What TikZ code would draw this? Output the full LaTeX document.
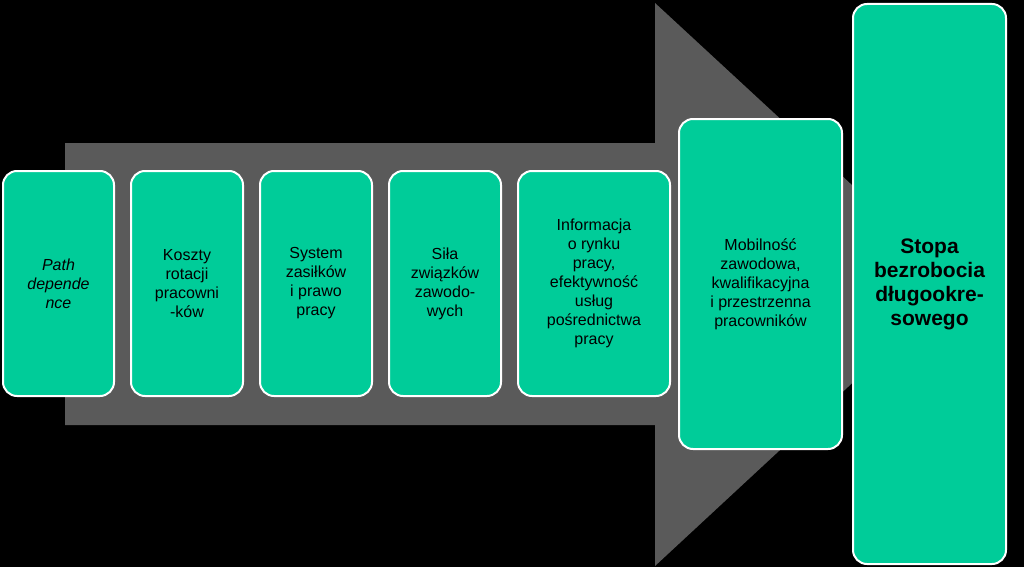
\documentclass[tikz,border=0pt]{standalone}
\usepackage{fontspec}
\setmainfont{Liberation Sans}
\usetikzlibrary{positioning}
\definecolor{boxgreen}{RGB}{0,204,153}
\definecolor{arrowgrey}{RGB}{90,90,90}

\begin{document}
\begin{tikzpicture}[
    x=1pt, y=-1pt,
    factor/.style={rectangle, rounded corners=14pt, draw=white, line width=2pt, fill=boxgreen, align=center, font=\fontsize{16}{19}\selectfont, inner sep=2pt, anchor=north west},
    result/.style={factor, font=\fontsize{21}{24}\selectfont\bfseries}
]
% Background and arrow
\fill[black] (0,0) rectangle (1024,567);
\useasboundingbox (0,0) rectangle (1024,567);
\fill[arrowgrey] (65,143) -- (655,143) -- (655,3) -- (959,284) -- (655,566) -- (655,425) -- (65,425) -- cycle;

% Factors
\node[factor, minimum width=111pt, minimum height=225pt] (path) at (2,170) {\itshape Path\\\itshape depende\\\itshape nce};
\node[factor, minimum width=112pt, minimum height=225pt] (koszty) at (130,170) {Koszty\\rotacji\\pracowni\\-ków};
\node[factor, minimum width=112pt, minimum height=225pt] (system) at (259,170) {System\\zasiłków\\i prawo\\pracy};
\node[factor, minimum width=112pt, minimum height=225pt] (sila) at (388,170) {Siła\\związków\\zawodo-\\wych};
\node[factor, minimum width=152pt, minimum height=225pt] (info) at (517,170) {Informacja\\o rynku\\pracy,\\efektywność\\usług\\pośrednictwa\\pracy};
\node[factor, minimum width=163pt, minimum height=330pt] (mobilnosc) at (678,118) {Mobilność\\zawodowa,\\kwalifikacyjna\\i przestrzenna\\pracowników};

% Result
\node[result, minimum width=153pt, minimum height=560pt] (stopa) at (852,3) {Stopa\\bezrobocia\\długookre-\\sowego};
\end{tikzpicture}
\end{document}
